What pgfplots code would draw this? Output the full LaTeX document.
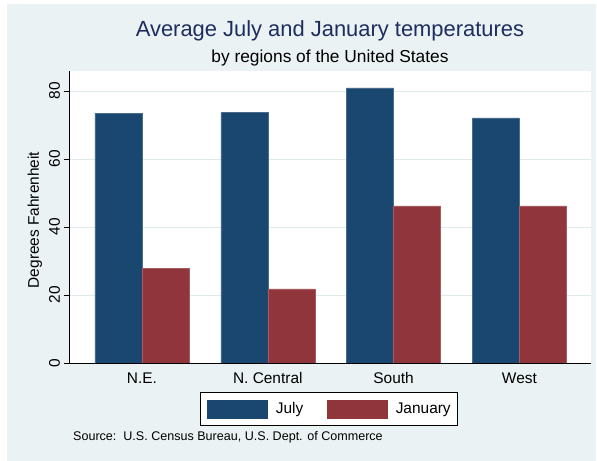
\documentclass[border=0pt]{standalone}
\usepackage{fontspec}
\setmainfont{Liberation Sans}
\usepackage{pgfplots}
\pgfplotsset{compat=1.18}
\definecolor{bgc}{RGB}{234,242,243}
\definecolor{july}{RGB}{26,71,111}
\definecolor{jan}{RGB}{144,53,59}
\definecolor{titlec}{RGB}{30,45,95}
\definecolor{gridc}{RGB}{224,234,236}
\begin{document}
\begin{tikzpicture}[x=1bp,y=1bp]
\useasboundingbox (0,0) rectangle (597,461);
\fill[bgc] (7,0) rectangle (596,456.5);
\fill[white] (69.5,98) rectangle (591,390);
\begin{axis}[
  at={(69.5bp,98bp)}, anchor=south west,
  width=521.5bp, height=292bp, scale only axis,
  xmin=-0.576, xmax=3.569, ymin=0, ymax=85.88,
  ybar=0pt, bar width=47bp,
  xtick={0,1,2,3}, xticklabels={N.E., N. Central, South, West},
  ytick={0,20,40,60,80},
  axis x line*=bottom, axis y line*=left,
  axis line style={-, line width=0.9bp, black},
  tick align=outside, major tick length=6bp,
  xtick style={draw=none},
  ytick style={line width=0.8bp, black},
  ymajorgrids, major grid style={gridc, line width=0.9bp},
  /pgf/number format/assume math mode=true,
  tick label style={font=\fontsize{15.5}{18}\selectfont},
  yticklabel style={rotate=90, anchor=south},
  ylabel={Degrees Fahrenheit},
  ylabel style={at={(axis description cs:-0.0662,0.4897)}, rotate=0, anchor=center, font=\fontsize{15.5}{18}\selectfont},
  legend columns=2,
  legend style={at={(axis description cs:0.4976,-0.1575)}, anchor=center,
    draw=black, line width=0.8bp, fill=white, inner xsep=7bp, inner ysep=7bp,
    column sep=8bp, nodes={inner sep=0pt, font=\fontsize{15.5}{18}\selectfont},
    /tikz/every even column/.append style={column sep=24bp}},
]
\addplot[fill=july, draw=july!80!white, line width=0.5bp,
  legend image code/.code={\fill[july] (0bp,-9bp) rectangle (60bp,9bp);}]
  coordinates {(0,73.5) (1,73.6) (2,80.9) (3,72.1)};
\addplot[fill=jan, draw=jan!80!white, line width=0.5bp,
  legend image code/.code={\fill[jan] (0bp,-9bp) rectangle (60bp,9bp);}]
  coordinates {(0,27.9) (1,21.8) (2,46.2) (3,46.2)};
\legend{July, January}
\end{axis}
\node[font=\fontsize{22}{26}\selectfont, text=titlec] at (330,430) {Average July and January temperatures};
\node[font=\fontsize{17.4}{20}\selectfont] at (330,403) {by regions of the United States};
\node[font=\fontsize{12.6}{15}\selectfont, anchor=west, inner sep=0pt] at (73,24) {Source:\ \ U.S. Census Bureau, U.S. Dept. of Commerce};
\end{tikzpicture}
\end{document}
